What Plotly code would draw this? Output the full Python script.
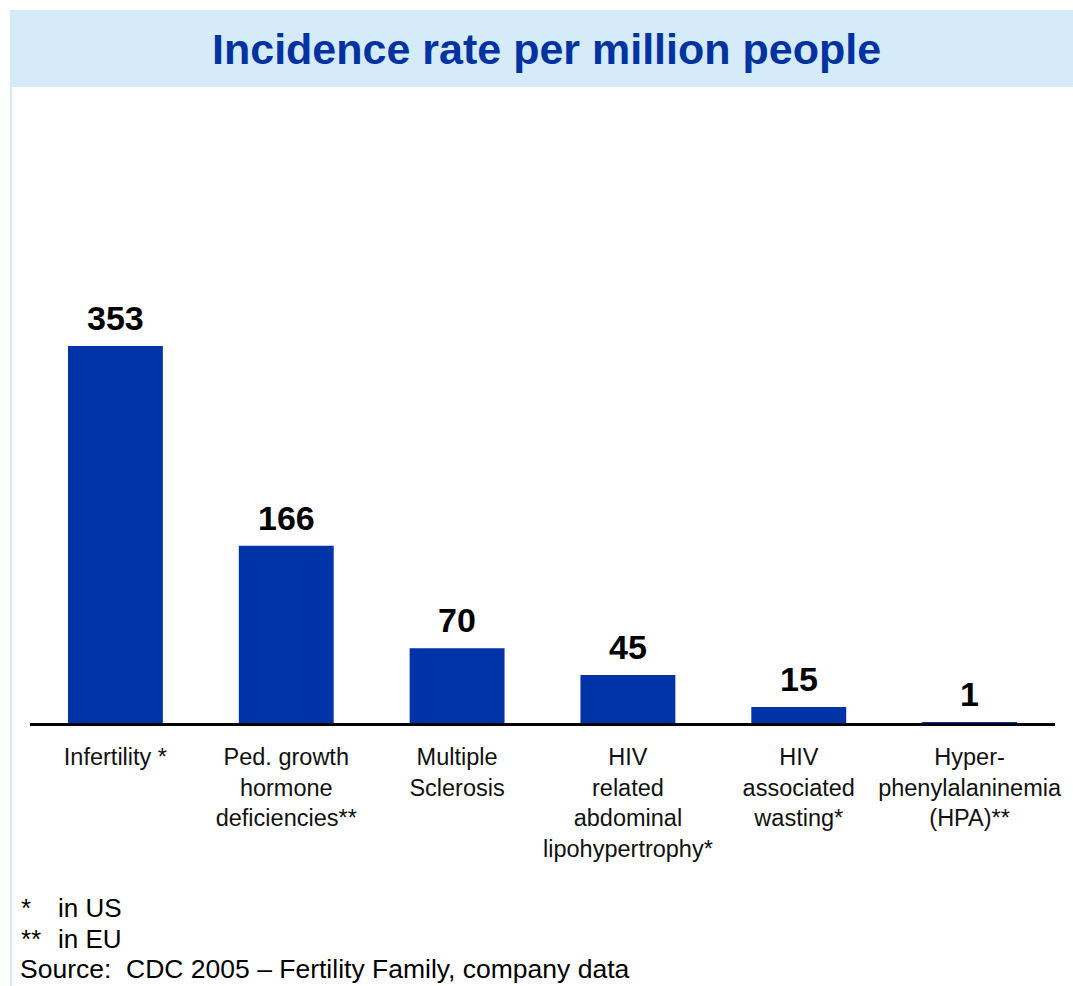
import plotly.graph_objects as go

categories = [
    "Infertility *",
    "Ped. growth<br>hormone<br>deficiencies**",
    "Multiple<br>Sclerosis",
    "HIV<br>related<br>abdominal<br>lipohypertrophy*",
    "HIV<br>associated<br>wasting*",
    "Hyper-<br>phenylalaninemia<br>(HPA)**",
]
values = [353, 166, 70, 45, 15, 1]
title_text = "Incidence rate per million people"
footnotes = [("*", "in US"), ("**", "in EU")]
source_text = "Source:\u00a0 CDC 2005 \u2013 Fertility Family, company data"

OFF = 0
W, H = 1073, 986
L, R, T, B = 30, 18, 100, 263
pw, ph = W - L - R, H - T - B

def px(x):  # screen pixel -> paper
    return (x - OFF - L) / pw

def py(y):
    return (H - B - (y - OFF)) / ph

BAR = "#0033A8"
LIGHT = "#D5EBF9"
FONT = "Liberation Sans, Arial"

fig = go.Figure(go.Bar(
    x=categories, y=values, marker=dict(color=BAR, line=dict(width=0)),
    hoverinfo="skip",
))

for c, v in zip(categories, values):
    fig.add_annotation(x=c, y=v, xref="x", yref="y", text=f"<b>{v}</b>",
                       showarrow=False, yanchor="bottom", yshift=7,
                       font=dict(family=FONT, size=34, color="#000000"))

# title bar
fig.add_shape(type="rect", xref="paper", yref="paper", x0=px(10), x1=px(1075),
              y0=py(87), y1=py(10), fillcolor=LIGHT, line=dict(width=0), layer="below")
fig.add_shape(type="line", xref="paper", yref="paper", x0=px(11), x1=px(11),
              y0=py(87), y1=py(990), line=dict(color=LIGHT, width=2))
fig.add_annotation(xref="paper", yref="paper", x=px(546), y=py(49), text=f"<b>{title_text}</b>",
                   showarrow=False, xanchor="center", yanchor="middle",
                   font=dict(family=FONT, size=43, color="#0033A0"))

# footnotes
fy = [908, 939]
for (mark, txt), yy in zip(footnotes, fy):
    fig.add_annotation(xref="paper", yref="paper", x=px(19), y=py(yy), text=mark,
                       showarrow=False, xanchor="left", yanchor="middle",
                       font=dict(family=FONT, size=26, color="#000000"))
    fig.add_annotation(xref="paper", yref="paper", x=px(56), y=py(yy), text=txt,
                       showarrow=False, xanchor="left", yanchor="middle",
                       font=dict(family=FONT, size=26, color="#000000"))
fig.add_annotation(xref="paper", yref="paper", x=px(18), y=py(969), text=source_text,
                   showarrow=False, xanchor="left", yanchor="middle",
                   font=dict(family=FONT, size=26.5, color="#000000"))

fig.update_layout(
    width=W, height=H,
    margin=dict(l=L, r=R, t=T, b=B, autoexpand=False),
    paper_bgcolor="white", plot_bgcolor="white",
    bargap=76 / 171,
    showlegend=False,
    xaxis=dict(showline=True, linecolor="#000000", linewidth=3, ticks="",
               showgrid=False, zeroline=False, range=[-0.5, 5.5],
               tickfont=dict(family=FONT, size=23.5, color="#111111"),
               ticklabelstandoff=11, tickangle=0, fixedrange=True),
    yaxis=dict(visible=False, range=[0, (H - B - T) / 1.068], fixedrange=True),
)

fig.write_html("out.html",
               config={"displayModeBar": False, "staticPlot": True},
               post_script="document.body.style.margin='0';"
                           "document.documentElement.style.overflow='hidden';")
